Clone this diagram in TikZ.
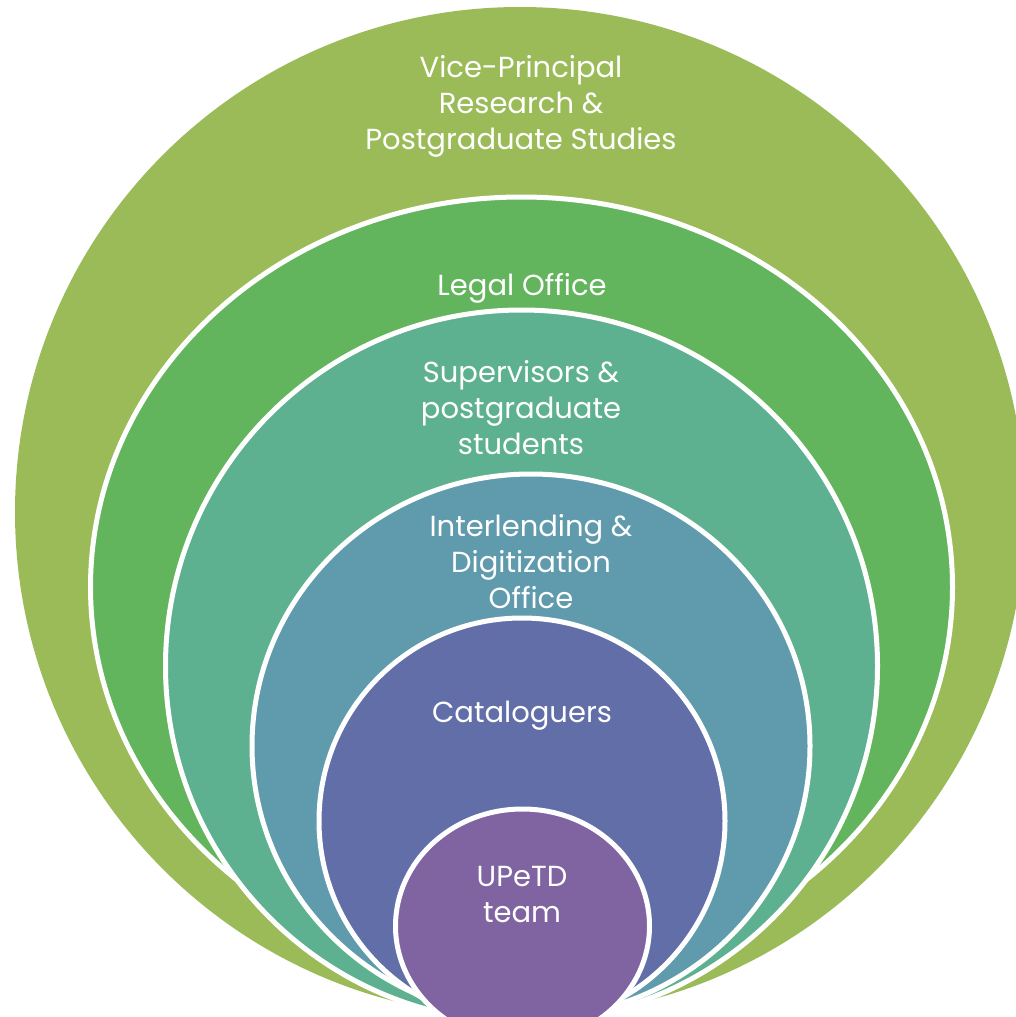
\documentclass[tikz,border=0pt]{standalone}
\usepackage{fontspec}
\setmainfont{Poppins}
\definecolor{cVP}{HTML}{9BBB59}
\definecolor{cLegal}{HTML}{62B55C}
\definecolor{cSup}{HTML}{5DB190}
\definecolor{cInter}{HTML}{5F9BAD}
\definecolor{cCat}{HTML}{626EA8}
\definecolor{cTeam}{HTML}{8064A2}
\begin{document}
\begin{tikzpicture}[x=1pt,y=-1pt,
  ring/.style={draw=white,line width=5pt},
  lbl/.style={text=white,align=center,inner sep=0pt,font=\fontsize{29}{36}\selectfont}]
\useasboundingbox (0,0) rectangle (1016,1017);
\begin{scope}
\clip (0,0) rectangle (1016,1017);
\fill[cVP] (520,512) ellipse [x radius=505pt, y radius=505pt];
\filldraw[ring,fill=cLegal] (521.5,587) ellipse [x radius=431pt, y radius=390pt];
\filldraw[ring,fill=cSup] (521.5,666) ellipse [x radius=356pt, y radius=356pt];
\filldraw[ring,fill=cInter] (531,746) ellipse [x radius=279pt, y radius=272pt];
\filldraw[ring,fill=cCat] (522,821) ellipse [x radius=203pt, y radius=203pt];
\filldraw[ring,fill=cTeam] (522.5,926) ellipse [x radius=127pt, y radius=117pt];
\end{scope}
\node[lbl] (vp) at (521,106) {Vice-Principal\\Research \&\\Postgraduate Studies};
\node[lbl] (legal) at (522,288) {Legal Office};
\node[lbl] (sup) at (521,408) {Supervisors \&\\postgraduate\\students};
\node[lbl] (inter) at (531,562) {Interlending \&\\Digitization\\Office};
\node[lbl] (cat) at (522,716) {Cataloguers};
\node[lbl] (team) at (522,895) {UPeTD\\team};
\end{tikzpicture}
\end{document}
